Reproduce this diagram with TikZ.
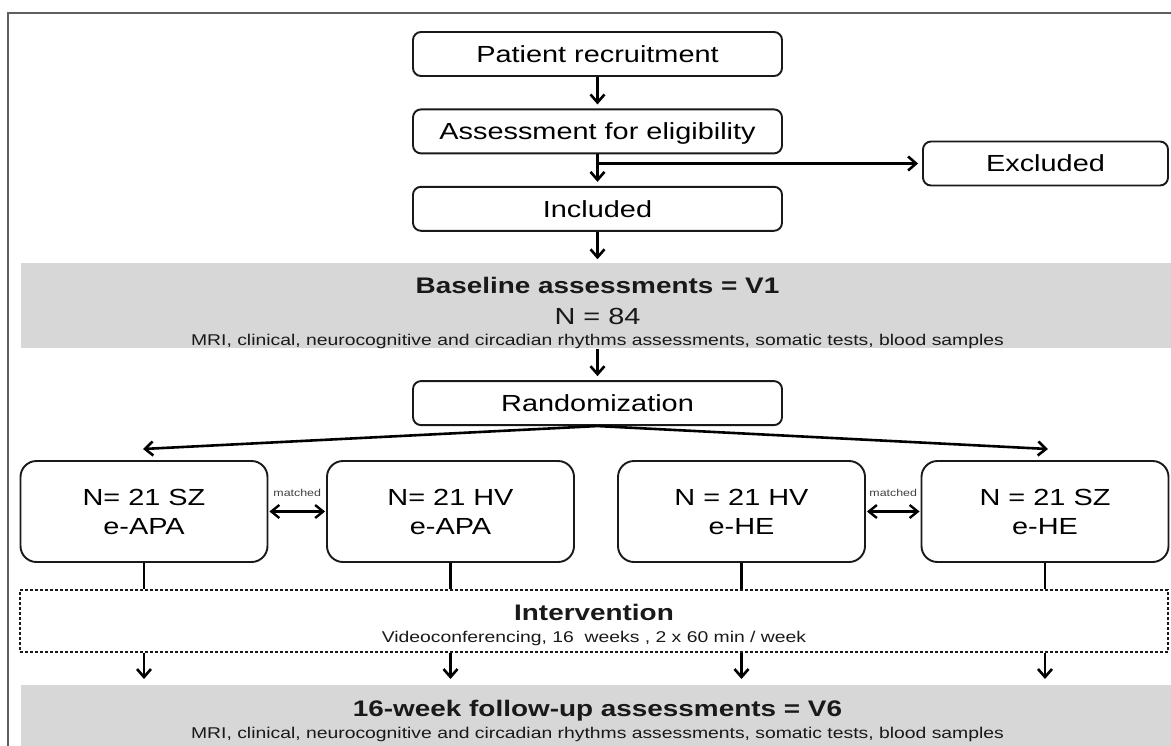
\documentclass[tikz,border=0pt]{standalone}
\usepackage{fontspec}
\setmainfont{Liberation Sans}[FakeStretch=1.24]
\usetikzlibrary{arrows.meta,chains,positioning}
\definecolor{bandgray}{RGB}{215,215,215}
\definecolor{framegray}{RGB}{95,95,95}
\definecolor{inkblack}{RGB}{25,25,25}
\newcommand\fcbox{\fontsize{23.3}{29}\selectfont}
\newcommand\fchead{\fontsize{22.5}{27}\selectfont\bfseries}
\newcommand\fcsmall{\fontsize{15.6}{19}\selectfont}
\newcommand\fcmatch{\fontsize{10}{12}\selectfont}
\tikzset{
  stepbox/.style={draw=inkblack,line width=1.9pt,rounded corners=8pt,minimum width=369pt,
    minimum height=44pt,text height=16.7pt,text depth=0pt,font=\fcbox},
  grpbox/.style={draw=inkblack,line width=1.9pt,rounded corners=16pt,minimum width=247pt,
    minimum height=101pt,align=center,font=\fcbox},
  band/.style={fill=bandgray,minimum width=1153pt,minimum height=85pt,inner sep=0pt},
  bandtxt/.style={anchor=north,align=center,inner sep=0pt,text=inkblack},
  arj/.style={line width=2.6pt,-{Straight Barb[length=8pt,width=14pt]},shorten >=4pt},
  arjb/.style={line width=2.4pt,{Straight Barb[length=8pt,width=13pt]}-{Straight Barb[length=8pt,width=13pt]},shorten >=1pt,shorten <=1pt},
}
\begin{document}
\begin{tikzpicture}[x=1pt,y=-1pt]
\useasboundingbox (0,0) rectangle (1171,745);
\clip (0,0) rectangle (1171,745);
\draw[framegray,line width=2.5pt] (8,13) rectangle (1250,800);
\path[start chain=F going below,node distance=31.5pt,nodes={on chain,join=by arj}]
    node[stepbox] (rec) at (597.5,54) {Patient recruitment}
    node[stepbox] (elig) {Assessment for eligibility}
    node[stepbox] (incl) {Included}
    node[band] (v1) {}
    node[stepbox] (rand) {Randomization};
\node[bandtxt,font=\fontsize{23.3}{21.3}\selectfont] (v1txt) at ([yshift=-14pt]v1.north)
    {{\fchead Baseline assessments = V1}\\[9pt] N = 84\\
     {\fcsmall MRI, clinical, neurocognitive and circadian rhythms assessments, somatic tests, blood samples}};
\node[stepbox,minimum width=245pt] (excl) at (1045.5,163.5) {Excluded};
\coordinate (br) at (elig.south |- excl.west);
\draw[arj] (br) -- (excl.west);
\node[grpbox] (g1) at (144,511.5) {N= 21 SZ\\e-APA};
\node[grpbox] (g2) at (450.5,511.5) {N= 21 HV\\e-APA};
\node[grpbox] (g3) at (741.5,511.5) {N = 21 HV\\e-HE};
\node[grpbox] (g4) at (1045,511.5) {N = 21 SZ\\e-HE};
\coordinate (t1) at (143,449);
\coordinate (t4) at (1048,449);
\draw[arj,shorten >=0pt] (rand.south) -- (t1);
\draw[arj,shorten >=0pt] (rand.south) -- (t4);
\draw[arjb] (g1.east) -- node[above=13pt,inner sep=1pt,font=\fcmatch,text=black!75] (m12) {matched} (g2.west);
\draw[arjb] (g3.east) -- node[above=13pt,inner sep=1pt,font=\fcmatch,text=black!75] (m34) {matched} (g4.west);
\node[draw=inkblack,line width=1.3pt,dash pattern=on 3pt off 2pt,minimum width=1148pt,minimum height=62pt,inner sep=0pt] (int) at (594,621) {};
\node[bandtxt,font=\fontsize{15.6}{21.6}\selectfont] (inttxt) at ([yshift=-15pt]int.north)
    {{\fchead Intervention}\\ Videoconferencing, 16\ \ weeks , 2 x 60 min / week};
\node[band,anchor=north,minimum height=110pt] (fu) at (597.5,685) {};
\node[bandtxt,font=\fontsize{15.6}{21.6}\selectfont] (futxt) at ([yshift=-15pt]fu.north)
    {{\fchead 16-week follow-up assessments = V6}\\
     MRI, clinical, neurocognitive and circadian rhythms assessments, somatic tests, blood samples};
\foreach \g in {g1,g2,g3,g4}{
  \draw[line width=2.6pt] (\g.south) -- (\g.south |- int.north);
  \draw[arj,shorten >=6pt] (\g.south |- int.south) -- (\g.south |- fu.north);
}
\end{tikzpicture}
\end{document}
